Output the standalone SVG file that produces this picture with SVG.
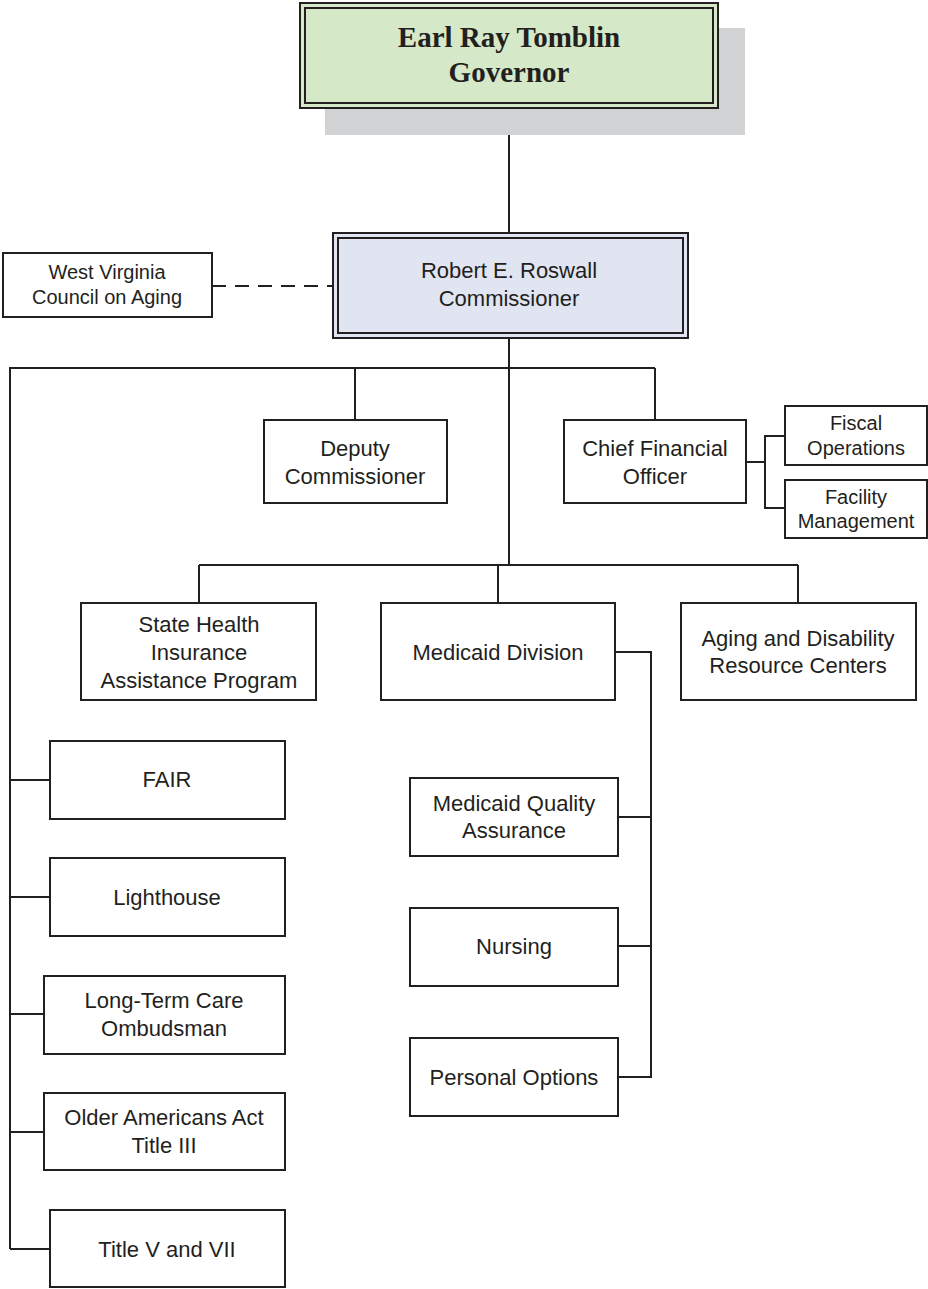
<svg xmlns="http://www.w3.org/2000/svg" width="928" height="1289" viewBox="0 0 928 1289">
<style>
.box{fill:#fff;stroke:#231f20;stroke-width:2}
.ln{fill:none;stroke:#231f20;stroke-width:2}
.t{font-family:"Liberation Sans",Arial,sans-serif;font-size:22px;fill:#231f20;text-anchor:middle}
.s{font-family:"Liberation Sans",Arial,sans-serif;font-size:20px;fill:#231f20;text-anchor:middle}
.g{font-family:"Liberation Serif","Times New Roman",serif;font-size:29px;font-weight:bold;fill:#231f20;text-anchor:middle}
</style>
<rect width="928" height="1289" fill="#fff"/>
<g id="connectors">
<line class="ln" x1="509" y1="108" x2="509" y2="233"/>
<line class="ln" x1="212" y1="286" x2="333" y2="286" stroke-dasharray="14,9"/>
<line class="ln" x1="509" y1="338" x2="509" y2="565"/>
<line class="ln" x1="9" y1="368" x2="509" y2="368" stroke-width="3"/>
<line class="ln" x1="509" y1="368" x2="655" y2="368"/>
<line class="ln" x1="355" y1="368" x2="355" y2="420"/>
<line class="ln" x1="655" y1="368" x2="655" y2="420"/>
<polyline class="ln" points="746,462 765,462"/>
<polyline class="ln" points="785,436 765,436 765,508 785,508"/>
<line class="ln" x1="199" y1="565" x2="798" y2="565"/>
<line class="ln" x1="199" y1="565" x2="199" y2="603"/>
<line class="ln" x1="498" y1="565" x2="498" y2="603"/>
<line class="ln" x1="798" y1="565" x2="798" y2="603"/>
<polyline class="ln" points="615,652 651,652 651,1077 618,1077"/>
<line class="ln" x1="618" y1="817" x2="651" y2="817"/>
<line class="ln" x1="618" y1="946" x2="651" y2="946"/>
<line class="ln" x1="10" y1="368" x2="10" y2="1249"/>
<line class="ln" x1="10" y1="780" x2="50" y2="780"/>
<line class="ln" x1="10" y1="897" x2="50" y2="897"/>
<line class="ln" x1="10" y1="1014" x2="44" y2="1014"/>
<line class="ln" x1="10" y1="1132" x2="44" y2="1132"/>
<polyline class="ln" points="10,1249 50,1249"/>
</g>
<g id="governor">
<rect x="325" y="28" width="420" height="107" fill="#d1d2d4"/>
<rect x="300" y="3" width="418" height="105" fill="#d5e8c8" stroke="#231f20" stroke-width="2"/>
<rect x="305" y="8" width="408" height="95" fill="none" stroke="#231f20" stroke-width="2"/>
<text class="g" x="509" y="47">Earl Ray Tomblin</text>
<text class="g" x="509" y="82">Governor</text>
</g>
<g id="council">
<rect class="box" x="3" y="253" width="209" height="64"/>
<text class="s" x="107" y="279">West Virginia</text>
<text class="s" x="107" y="304">Council on Aging</text>
</g>
<g id="commissioner">
<rect x="333" y="233" width="355" height="105" fill="#e1e5f2" stroke="#231f20" stroke-width="2"/>
<rect x="338" y="238" width="345" height="95" fill="none" stroke="#231f20" stroke-width="2"/>
<text class="t" x="509" y="278">Robert E. Roswall</text>
<text class="t" x="509" y="306">Commissioner</text>
</g>
<g id="deputy">
<rect class="box" x="264" y="420" width="183" height="83"/>
<text class="t" x="355" y="456">Deputy</text>
<text class="t" x="355" y="484">Commissioner</text>
</g>
<g id="cfo">
<rect class="box" x="564" y="420" width="182" height="83"/>
<text class="t" x="655" y="456">Chief Financial</text>
<text class="t" x="655" y="484">Officer</text>
</g>
<g id="fiscal">
<rect class="box" x="785" y="406" width="142" height="59"/>
<text class="s" x="856" y="430">Fiscal</text>
<text class="s" x="856" y="455">Operations</text>
</g>
<g id="facility">
<rect class="box" x="785" y="480" width="142" height="58"/>
<text class="s" x="856" y="504">Facility</text>
<text class="s" x="856" y="528">Management</text>
</g>
<g id="shiap">
<rect class="box" x="81" y="603" width="235" height="97"/>
<text class="t" x="199" y="632">State Health</text>
<text class="t" x="199" y="660">Insurance</text>
<text class="t" x="199" y="688">Assistance Program</text>
</g>
<g id="medicaid">
<rect class="box" x="381" y="603" width="234" height="97"/>
<text class="t" x="498" y="660">Medicaid Division</text>
</g>
<g id="adrc">
<rect class="box" x="681" y="603" width="235" height="97"/>
<text class="t" x="798" y="646">Aging and Disability</text>
<text class="t" x="798" y="673">Resource Centers</text>
</g>
<g id="mqa">
<rect class="box" x="410" y="778" width="208" height="78"/>
<text class="t" x="514" y="811">Medicaid Quality</text>
<text class="t" x="514" y="838">Assurance</text>
</g>
<g id="nursing">
<rect class="box" x="410" y="908" width="208" height="78"/>
<text class="t" x="514" y="954">Nursing</text>
</g>
<g id="personal">
<rect class="box" x="410" y="1038" width="208" height="78"/>
<text class="t" x="514" y="1085">Personal Options</text>
</g>
<g id="fair">
<rect class="box" x="50" y="741" width="235" height="78"/>
<text class="t" x="167" y="787">FAIR</text>
</g>
<g id="lighthouse">
<rect class="box" x="50" y="858" width="235" height="78"/>
<text class="t" x="167" y="905">Lighthouse</text>
</g>
<g id="ltc">
<rect class="box" x="44" y="976" width="241" height="78"/>
<text class="t" x="164" y="1008">Long-Term Care</text>
<text class="t" x="164" y="1036">Ombudsman</text>
</g>
<g id="oaa">
<rect class="box" x="44" y="1093" width="241" height="77"/>
<text class="t" x="164" y="1125">Older Americans Act</text>
<text class="t" x="164" y="1153">Title III</text>
</g>
<g id="title5">
<rect class="box" x="50" y="1210" width="235" height="77"/>
<text class="t" x="167" y="1257">Title V and VII</text>
</g>
</svg>
